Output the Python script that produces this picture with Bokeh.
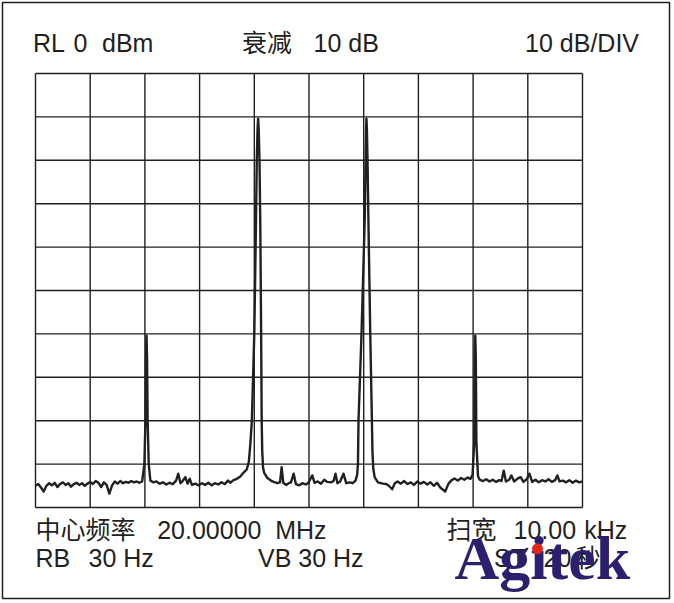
from bokeh.plotting import figure
from bokeh.core.properties import value
from bokeh.embed import file_html
from bokeh.resources import INLINE

# ---- data (frequency offset from 20 MHz in kHz, level in dBm)
freq_khz = [
    -5.00, -4.95, -4.90, -4.85, -4.80, -4.75, -4.70, -4.65, -4.60, -4.55, -4.50, -4.45, -4.40, -4.35,
    -4.30, -4.25, -4.20, -4.15, -4.10, -4.05, -4.00, -3.95, -3.90, -3.85, -3.80, -3.75, -3.70, -3.65,
    -3.60, -3.55, -3.50, -3.45, -3.40, -3.35, -3.30, -3.25, -3.20, -3.15, -3.10, -3.05,
    -3.01, -2.99, -2.98, -2.97, -2.96, -2.95, -2.93, -2.90,
    -2.85, -2.79, -2.73, -2.67, -2.61, -2.55, -2.49, -2.43, -2.39, -2.35, -2.31, -2.26, -2.22, -2.18,
    -2.14, -2.08, -2.02, -1.96, -1.90, -1.84, -1.78, -1.72, -1.66, -1.60, -1.54, -1.48, -1.44, -1.38,
    -1.32, -1.26, -1.20, -1.14, -1.10,
    -1.07, -1.045, -1.00, -0.97, -0.955, -0.94, -0.93, -0.92, -0.905, -0.89, -0.875, -0.865, -0.855,
    -0.84, -0.82, -0.76, -0.67, -0.58, -0.53, -0.50, -0.47, -0.42, -0.37, -0.33, -0.28, -0.24, -0.18,
    -0.12, -0.06, -0.01, 0.06, 0.10, 0.16, 0.22, 0.28, 0.33, 0.40, 0.45, 0.485, 0.52, 0.57, 0.63,
    0.68, 0.75, 0.80, 0.85, 0.88, 0.895,
    0.905, 0.96, 1.02, 1.035, 1.045, 1.05, 1.058, 1.07, 1.085, 1.12, 1.15, 1.16, 1.175, 1.20, 1.26,
    1.35, 1.41, 1.46, 1.52, 1.57, 1.62, 1.68, 1.74, 1.80, 1.86, 1.92, 1.98, 2.04, 2.10, 2.16, 2.22,
    2.28, 2.34, 2.40, 2.49, 2.55, 2.60, 2.66, 2.72, 2.78, 2.84, 2.90, 2.95, 2.99,
    3.02, 3.03, 3.04, 3.05, 3.06, 3.09, 3.12, 3.18, 3.24, 3.30, 3.36, 3.42, 3.48, 3.52, 3.56, 3.60,
    3.66, 3.70, 3.75, 3.82, 3.87, 3.92, 3.98, 4.03, 4.08, 4.14, 4.20, 4.26, 4.32, 4.38, 4.44, 4.50,
    4.54, 4.58, 4.64, 4.70, 4.76, 4.82, 4.88, 4.94, 5.00,
]
level_dbm = [
    -95.0, -94.6, -95.4, -96.3, -95.0, -94.4, -94.9, -94.3, -95.3, -94.6, -94.2, -94.8, -94.4, -95.2,
    -94.6, -94.3, -94.8, -94.4, -95.0, -94.5, -94.1, -94.6, -93.9, -94.3, -95.3, -94.2, -94.8, -96.8,
    -94.9, -94.0, -94.5, -93.9, -94.4, -94.1, -94.3, -93.9, -94.2, -94.0, -94.3, -94.0,
    -90.0, -80.0, -66.0, -60.4, -66.0, -80.0, -90.0, -93.8,
    -94.2, -94.0, -94.5, -94.2, -94.7, -94.3, -94.6, -93.8, -92.2, -94.4, -93.9, -93.0, -94.5, -93.4,
    -94.8, -94.5, -94.9, -94.4, -94.8, -94.3, -94.9, -94.4, -94.7, -94.2, -94.6, -93.8, -94.3, -93.7,
    -93.4, -92.9, -92.0, -91.3, -89.5,
    -85.0, -80.0, -60.0, -35.0, -20.0, -12.5, -10.4, -12.5, -20.0, -35.0, -60.0, -80.0, -87.0,
    -90.8, -92.0, -93.2, -94.0, -94.4, -94.2, -90.7, -94.3, -94.8, -94.4, -94.2, -92.2, -94.6, -94.9,
    -94.4, -94.7, -94.3, -92.6, -94.3, -94.0, -94.5, -93.6, -94.1, -94.2, -93.9, -92.2, -94.4, -94.0, -92.2,
    -94.4, -94.2, -94.4, -93.8, -92.5, -90.0,
    -80.0, -60.0, -33.0, -20.0, -12.5, -10.4, -12.5, -20.0, -33.0, -60.0, -80.0, -87.0, -91.0, -93.0, -94.2,
    -94.5, -94.6, -95.0, -95.8, -94.4, -94.0, -94.5, -93.9, -94.6, -94.2, -94.8, -94.0, -94.5, -94.1, -94.7, -94.2,
    -95.0, -94.3, -95.4, -96.3, -94.5, -93.8, -93.3, -93.8, -93.2, -93.6, -93.1, -93.4, -92.5,
    -85.0, -66.0, -60.4, -66.0, -85.0, -92.8, -93.6, -93.9, -93.5, -94.0, -93.6, -94.1, -93.7, -93.9, -91.5, -94.0,
    -93.6, -92.6, -94.0, -93.3, -93.0, -94.1, -93.5, -92.2, -94.1, -93.6, -94.2, -93.7, -94.0, -93.5, -94.1, -93.7,
    -92.6, -94.0, -93.8, -94.2, -93.7, -94.3, -93.8, -94.2, -94.0,
]

x_ticks = [-5, -4, -3, -2, -1, 0, 1, 2, 3, 4, 5]            # kHz, 1 kHz/div
y_ticks = [-100, -90, -80, -70, -60, -50, -40, -30, -20, -10, 0]  # dBm, 10 dB/div

# screen annotation tokens
header_tokens = ["RL", "0", "dBm", "衰减", "10 dB", "10 dB/DIV"]
footer1_tokens = ["中心频率", "20.00000", "MHz", "扫宽", "10.00", "kHz"]
footer2_tokens = ["RB", "30 Hz", "VB 30 Hz", "ST", "20", "秒"]
logo_text = "Agitek"

INK = "#231f20"
FONT = "Liberation Sans, Noto Sans CJK SC, sans-serif"

# layout helpers: page pixel -> data coordinates (graticule: x 35..582 px, y 73..507 px)
def fx(px):
    return -5 + (px - 35) / 54.7

def fy(py):
    return -(py - 73) / 4.34

p = figure(width=671, height=600, x_range=(fx(2), fx(669)), y_range=(fy(598), fy(2)),
           output_backend="svg", toolbar_location=None,
           x_axis_location=None, y_axis_location=None,
           min_border_left=2, min_border_right=2, min_border_top=2, min_border_bottom=2,
           background_fill_color="white", border_fill_color="white",
           outline_line_color=INK, outline_line_width=1.5)
p.center = []

# graticule
n_x, n_y = len(x_ticks), len(y_ticks)
p.segment(x0=x_ticks, y0=[y_ticks[0]] * n_x, x1=x_ticks, y1=[y_ticks[-1]] * n_x,
          line_color=INK, line_width=1.4)
p.segment(x0=[x_ticks[0]] * n_y, y0=y_ticks, x1=[x_ticks[-1]] * n_y, y1=y_ticks,
          line_color=INK, line_width=1.4)

# trace
p.line(freq_khz, level_dbm, line_width=2.4, line_color=INK, line_join="round")

# texts (baseline positions, compensated for the renderer's baseline offset)
row1, row2, row3 = fy(42), fy(529.5), fy(557)
left_x = [fx(32.5), fx(73), fx(101.5), fx(241.6), fx(313)]
p.text(x=left_x, y=[row1] * 5, text=header_tokens[:5], text_font=value(FONT),
       text_font_size="25px", text_color=INK, text_baseline="alphabetic", text_align="left")
p.text(x=[fx(638.5)], y=[row1], text=header_tokens[5:], text_font=value(FONT),
       text_font_size="25px", text_color=INK, text_baseline="alphabetic", text_align="right")
p.text(x=[fx(35), fx(156.7), fx(274.7), fx(446), fx(513), fx(583.7)], y=[row2] * 6,
       text=footer1_tokens, text_font=value(FONT), text_font_size="25px", text_color=INK,
       text_baseline="alphabetic", text_align="left")
p.text(x=[fx(35), fx(88), fx(257.5), fx(493.5), fx(543), fx(575)], y=[row3] * 6,
       text=footer2_tokens, text_font=value(FONT), text_font_size="25px", text_color=INK,
       text_baseline="alphabetic", text_align="left")

# logo
p.text(x=[fx(454)], y=[fy(557)], text=[logo_text], text_font=value("Liberation Serif"),
       text_font_style="bold", text_font_size="62px", text_color="#2b1f6e",
       text_baseline="alphabetic", text_align="left")
p.scatter(x=[fx(537)], y=[fy(548.3)], size=11, marker="circle", fill_color="#e0251b",
          line_color=None)

open("out.html", "w").write(file_html(p, INLINE))
